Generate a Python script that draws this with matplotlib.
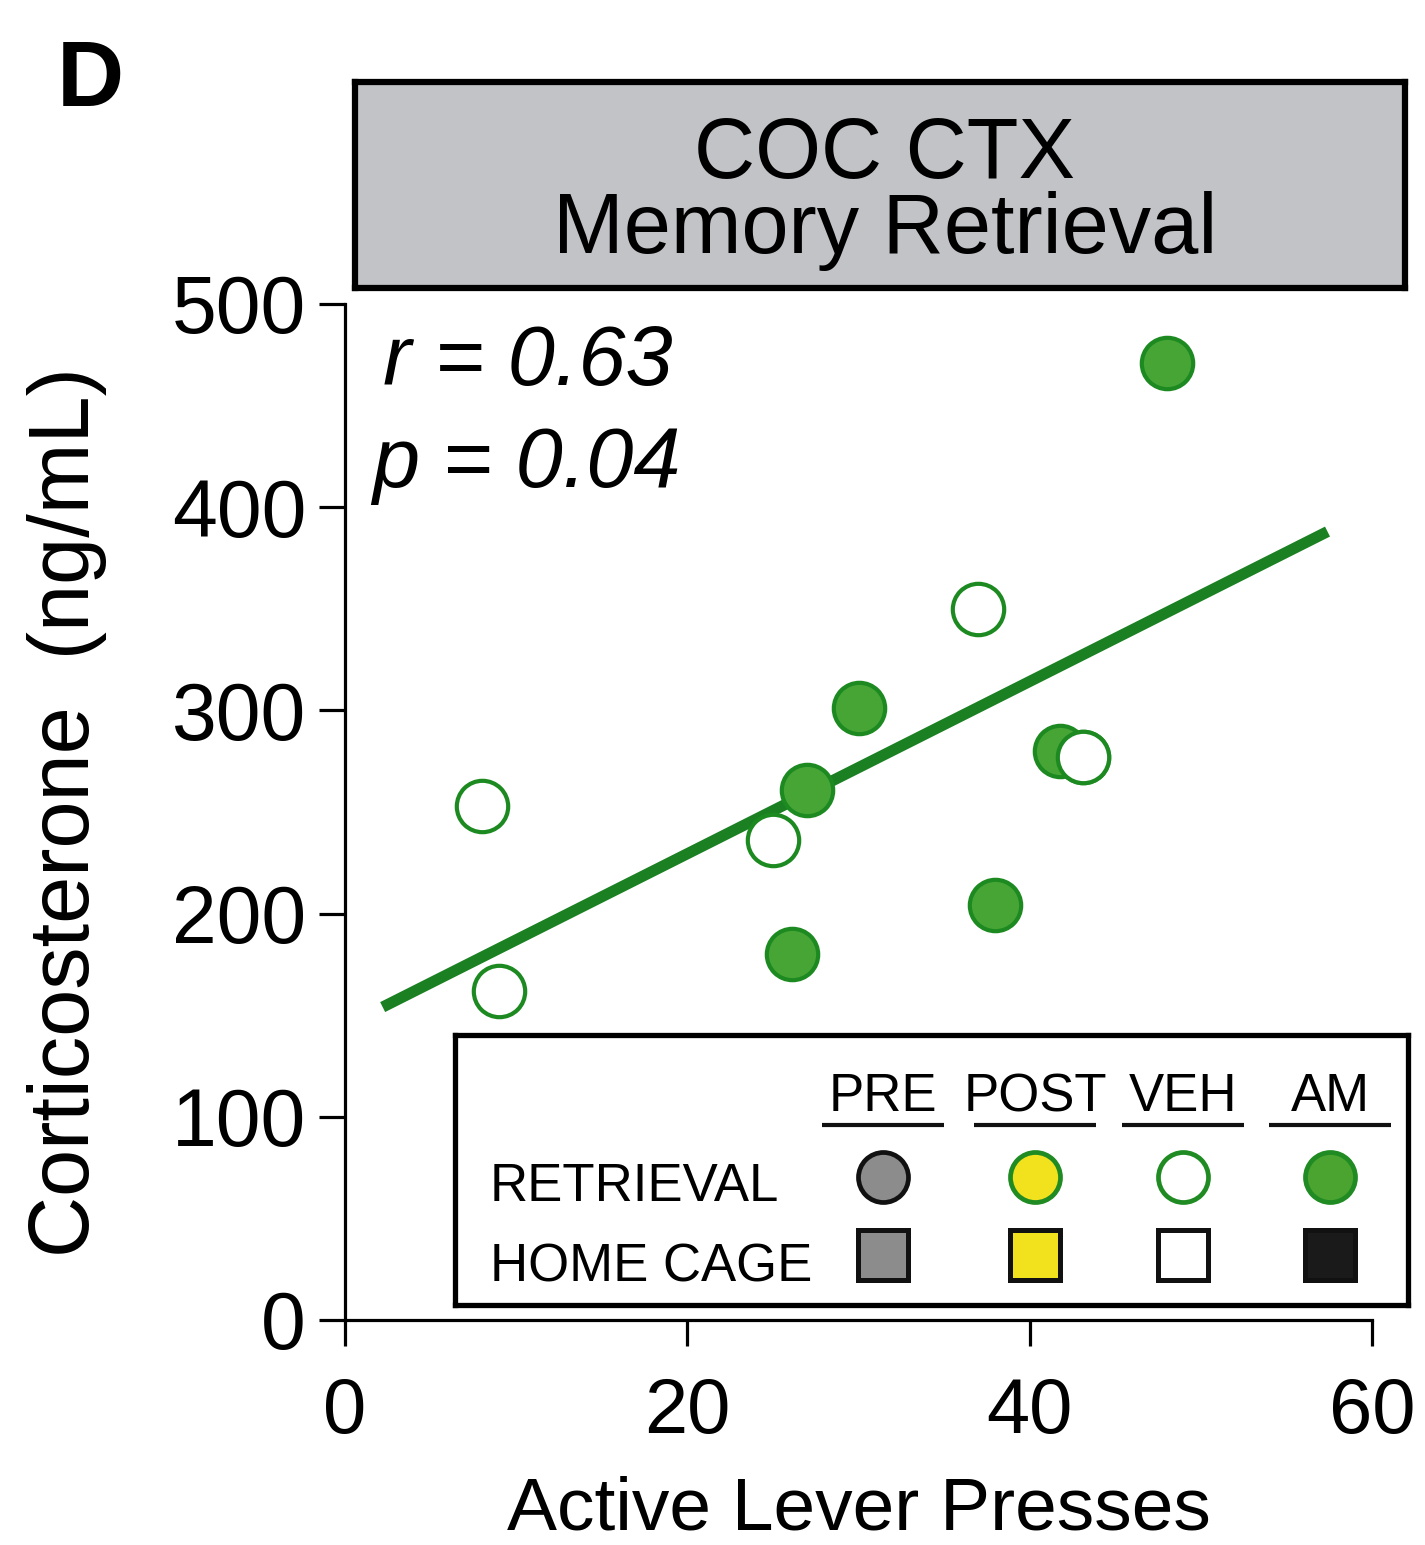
"""Corticosterone vs active lever presses, COC CTX memory retrieval (panel D)."""

import matplotlib

matplotlib.use("Agg")
import matplotlib.pyplot as plt
from matplotlib import font_manager

# retrieval animals: AM (filled) and VEH (open)
am_presses = [48.0, 30.0, 27.0, 41.8, 38.0, 26.1]
am_cort = [471, 301, 261, 280, 204, 180]
veh_presses = [8.0, 37.0, 43.1, 25.0, 9.0]
veh_cort = [253, 350, 277, 236, 162]

# regression line end points
fit_presses = [2.2, 57.4]
fit_cort = [154, 388]

r_text = "r = 0.63"
p_text = "p = 0.04"

x_ticks = [0, 20, 40, 60]
y_ticks = [0, 100, 200, 300, 400, 500]

legend_groups = ["PRE", "POST", "VEH", "AM"]
legend_rows = ["RETRIEVAL", "HOME CAGE"]
retrieval_face = ["#8c8c8c", "#f2e21e", "white", "#4ba42f"]
retrieval_edge = ["#111111", "#1f8b22", "#1f8b22", "#1f8b22"]
homecage_face = ["#8c8c8c", "#f2e21e", "white", "#1a1a1a"]

GREEN_FACE = "#46a535"
GREEN_EDGE = "#1c8a20"
LINE_GREEN = "#1a8022"

W, H = 1425, 1545


def pick_font(*names):
    available = {f.name for f in font_manager.fontManager.ttflist}
    for name in names:
        if name in available:
            return name
    return "DejaVu Sans"


def fig_rect(x0, y0, x1, y1):
    """Pixel box (top-left origin) -> figure fraction rect."""
    return [x0 / W, 1 - y1 / H, (x1 - x0) / W, (y1 - y0) / H]


main_font = pick_font("Liberation Sans", "Arial", "DejaVu Sans")
narrow_font = pick_font("Liberation Sans Narrow")
if narrow_font == "DejaVu Sans":
    narrow_font, legend_size = main_font, 38
else:
    legend_size = 45

plt.rcParams["font.family"] = [main_font, "DejaVu Sans"]

fig = plt.figure(figsize=(W / 100, H / 100), dpi=100, facecolor="white")

# main scatter axes
ax = fig.add_axes(fig_rect(345, 304, 1372, 1320))
ax.set_xlim(0, 60)
ax.set_ylim(0, 500)

ax.plot(fit_presses, fit_cort, color=LINE_GREEN, lw=8,
        solid_capstyle="butt", zorder=2)

ax.plot(veh_presses, veh_cort, "o", ms=37, mfc="white", mec=GREEN_EDGE,
        mew=3, zorder=3, clip_on=False)
ax.plot(am_presses, am_cort, "o", ms=37, mfc=GREEN_FACE, mec=GREEN_EDGE,
        mew=3, zorder=3, clip_on=False)
# the two overlapping points near x=42: open one sits on top
ax.plot(veh_presses[2], veh_cort[2], "o", ms=37, mfc="white", mec=GREEN_EDGE,
        mew=3, zorder=4)

ax.text(2.2, 471, r_text, style="italic", fontsize=61, va="center", ha="left")
ax.text(1.6, 421, p_text, style="italic", fontsize=61, va="center", ha="left")

ax.set_xticks(x_ticks)
ax.set_yticks(y_ticks)
ax.tick_params(direction="out", length=19, width=2.3)
ax.tick_params(axis="x", pad=21, labelsize=56)
ax.tick_params(axis="y", pad=9, labelsize=58)
for side in ("top", "right"):
    ax.spines[side].set_visible(False)
for side in ("left", "bottom"):
    ax.spines[side].set_linewidth(2.3)

ax.set_xlabel("Active Lever Presses", fontsize=54)
ax.xaxis.set_label_coords(0.5, -0.153)
ax.set_ylabel("Corticosterone  (ng/mL)", fontsize=61)
ax.yaxis.set_label_coords(-0.232, 0.5)

# panel letter
fig.text(90 / W, 1 - 106 / H, "D", fontsize=67, fontweight="bold",
         ha="center", va="baseline")

# grey title box
tax = fig.add_axes(fig_rect(355, 82, 1405, 288))
tax.set_facecolor("#c1c3c7")
tax.set_xticks([])
tax.set_yticks([])
for sp in tax.spines.values():
    sp.set_linewidth(4.5)
tax.set_xlim(0, 1050)
tax.set_ylim(206, 0)
tax.text(530, 96, "COC CTX", fontsize=61, ha="center", va="baseline")
tax.text(530, 171, "Memory Retrieval", fontsize=61, ha="center", va="baseline")

# legend box
lax = fig.add_axes(fig_rect(455, 1035, 1408, 1305))
lax.set_facecolor("white")
lax.set_xticks([])
lax.set_yticks([])
for sp in lax.spines.values():
    sp.set_linewidth(3.8)
lax.set_xlim(0, 953)
lax.set_ylim(270, 0)

col_x = [428, 580, 728, 875]
for cx, name, rf, re, hf in zip(col_x, legend_groups, retrieval_face,
                                retrieval_edge, homecage_face):
    lax.text(cx, 76, name, fontsize=legend_size, family=narrow_font,
             ha="center", va="baseline")
    lax.plot([cx - 61, cx + 61], [90, 90], color="#111111", lw=3,
             solid_capstyle="butt")
    lax.plot(cx, 142, "o", ms=36, mfc=rf, mec=re, mew=3.4)
    lax.plot(cx, 220, "s", ms=36, mfc=hf, mec="#111111", mew=3.6)

for row_y, label in zip([166, 246], legend_rows):
    lax.text(35, row_y, label, fontsize=legend_size, family=narrow_font,
             ha="left", va="baseline")

fig.savefig("out.png", dpi=100, facecolor="white")
